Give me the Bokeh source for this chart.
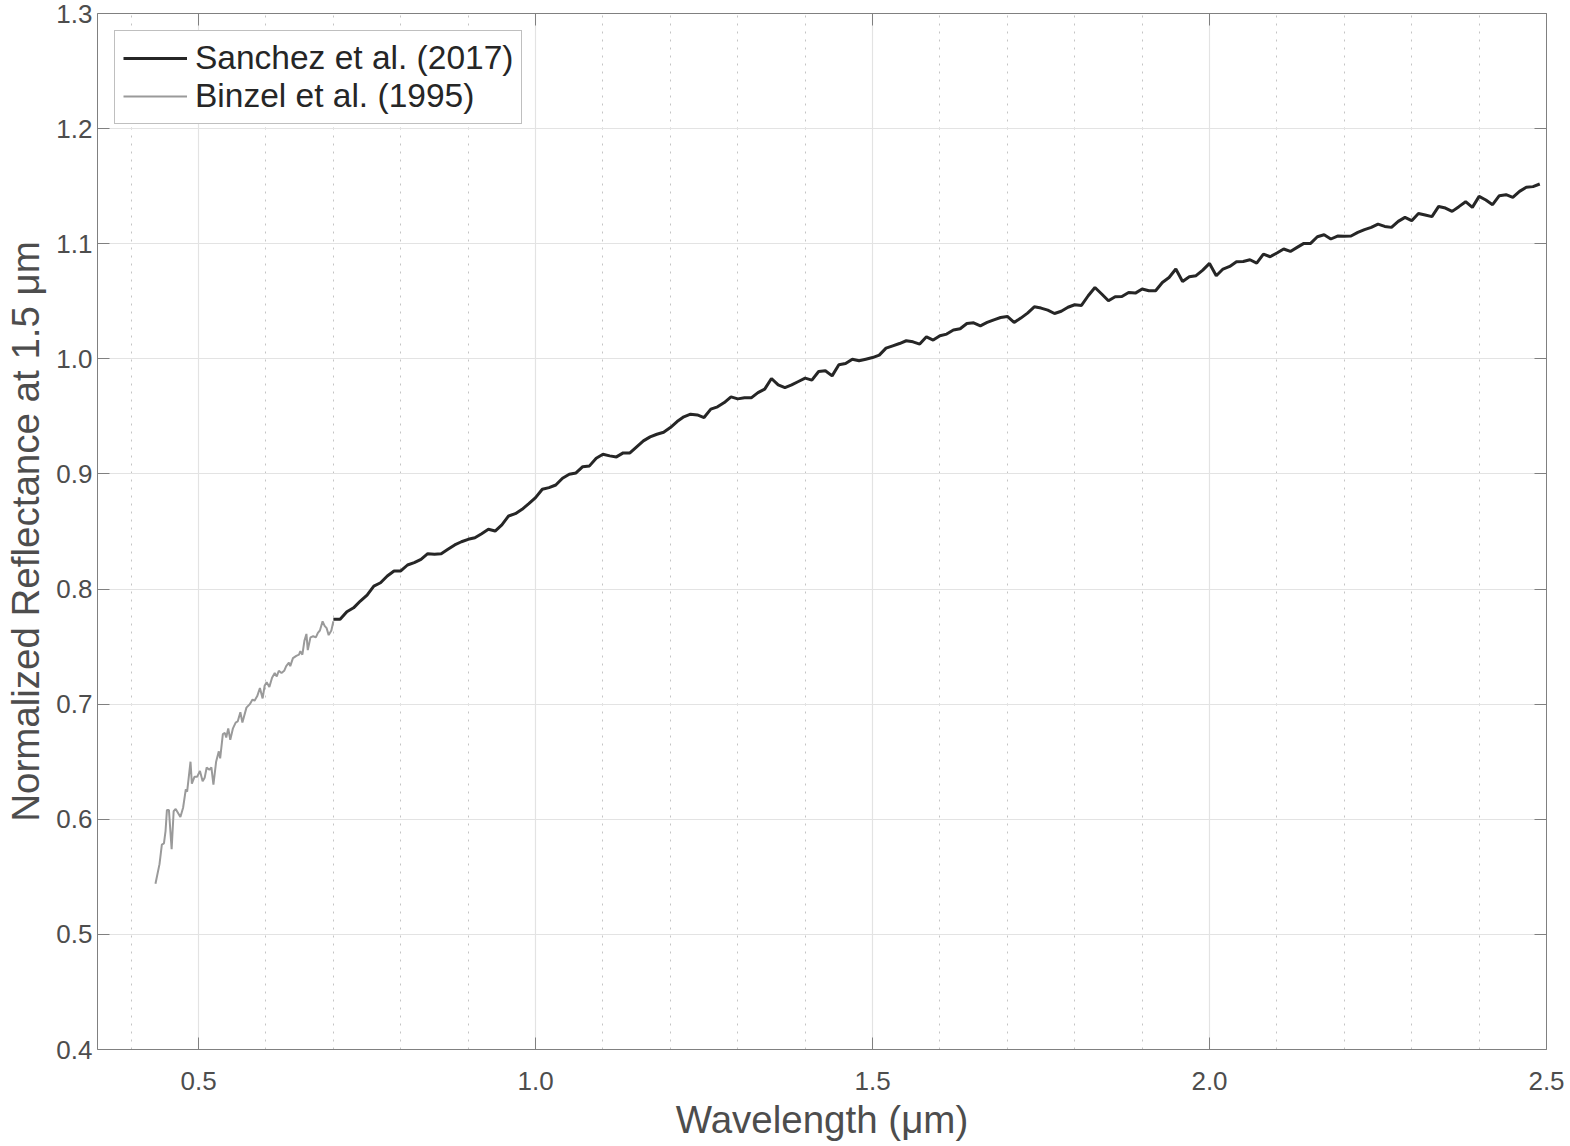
from bokeh.plotting import figure
from bokeh.models import FixedTicker, LinearAxis, Range1d, Legend, LegendItem, PrintfTickFormatter
from bokeh.embed import file_html
from bokeh.resources import INLINE

# ---- data ----
binzel_wl = [0.436, 0.442, 0.4455, 0.4486, 0.451, 0.453, 0.456, 0.460, 0.463, 0.466,
             0.473, 0.477, 0.481, 0.483, 0.488, 0.490, 0.494, 0.498, 0.502, 0.506,
             0.509, 0.512, 0.516, 0.519, 0.522, 0.526, 0.530, 0.532, 0.536, 0.539,
             0.541, 0.544, 0.547, 0.551, 0.555, 0.558, 0.562, 0.565, 0.571, 0.576,
             0.580, 0.583, 0.587, 0.591, 0.595, 0.598, 0.601, 0.605, 0.609, 0.613,
             0.616, 0.619, 0.623, 0.627, 0.630, 0.634, 0.636, 0.640, 0.645, 0.649,
             0.651, 0.654, 0.657, 0.660, 0.662, 0.666, 0.670, 0.674, 0.677, 0.680,
             0.684, 0.687, 0.690, 0.693, 0.697, 0.700]
binzel_refl = [0.544, 0.561, 0.578, 0.579, 0.590, 0.608, 0.608, 0.574, 0.607, 0.609,
               0.602, 0.610, 0.626, 0.624, 0.650, 0.631, 0.637, 0.637, 0.642, 0.633,
               0.636, 0.645, 0.643, 0.645, 0.630, 0.650, 0.659, 0.653, 0.674, 0.675,
               0.671, 0.679, 0.669, 0.679, 0.684, 0.685, 0.693, 0.684, 0.697, 0.700,
               0.704, 0.703, 0.707, 0.714, 0.705, 0.716, 0.719, 0.715, 0.723, 0.727,
               0.724, 0.729, 0.727, 0.729, 0.733, 0.736, 0.733, 0.740, 0.742, 0.743,
               0.746, 0.743, 0.755, 0.761, 0.747, 0.758, 0.759, 0.758, 0.762, 0.764,
               0.772, 0.768, 0.766, 0.760, 0.764, 0.772]

sanchez_wl = [0.70, 0.71, 0.72, 0.73, 0.74, 0.75, 0.76, 0.77, 0.78, 0.79,
              0.80, 0.81, 0.82, 0.83, 0.84, 0.85, 0.86, 0.87, 0.88, 0.89,
              0.90, 0.91, 0.92, 0.93, 0.94, 0.95, 0.96, 0.97, 0.98, 0.99,
              1.00, 1.01, 1.02, 1.03, 1.04, 1.05, 1.06, 1.07, 1.08, 1.09,
              1.10, 1.11, 1.12, 1.13, 1.14, 1.15, 1.16, 1.17, 1.18, 1.19,
              1.20, 1.21, 1.22, 1.23, 1.24, 1.25, 1.26, 1.27, 1.28, 1.29,
              1.30, 1.31, 1.32, 1.33, 1.34, 1.35, 1.36, 1.37, 1.38, 1.39,
              1.40, 1.41, 1.42, 1.43, 1.44, 1.45, 1.46, 1.47, 1.48, 1.49,
              1.50, 1.51, 1.52, 1.53, 1.54, 1.55, 1.56, 1.57, 1.58, 1.59,
              1.60, 1.61, 1.62, 1.63, 1.64, 1.65, 1.66, 1.67, 1.68, 1.69,
              1.70, 1.71, 1.72, 1.73, 1.74, 1.75, 1.76, 1.77, 1.78, 1.79,
              1.80, 1.81, 1.82, 1.83, 1.84, 1.85, 1.86, 1.87, 1.88, 1.89,
              1.90, 1.91, 1.92, 1.93, 1.94, 1.95, 1.96, 1.97, 1.98, 1.99,
              2.00, 2.01, 2.02, 2.03, 2.04, 2.05, 2.06, 2.07, 2.08, 2.09,
              2.10, 2.11, 2.12, 2.13, 2.14, 2.15, 2.16, 2.17, 2.18, 2.19,
              2.20, 2.21, 2.22, 2.23, 2.24, 2.25, 2.26, 2.27, 2.28, 2.29,
              2.30, 2.31, 2.32, 2.33, 2.34, 2.35, 2.36, 2.37, 2.38, 2.39,
              2.40, 2.41, 2.42, 2.43, 2.44, 2.45, 2.46, 2.47, 2.48, 2.49]
sanchez_refl = [0.7737, 0.7737, 0.7803, 0.7837, 0.7896, 0.7948, 0.8026, 0.8055, 0.8113, 0.8157,
                0.8157, 0.8209, 0.8229, 0.8258, 0.8307, 0.8302, 0.8307, 0.8345, 0.8383, 0.8411,
                0.8432, 0.8446, 0.8481, 0.8519, 0.8504, 0.8557, 0.8635, 0.8655, 0.8693, 0.8742,
                0.8794, 0.8867, 0.8881, 0.8904, 0.8963, 0.8997, 0.9009, 0.9063, 0.9070, 0.9137,
                0.9171, 0.9157, 0.9148, 0.9183, 0.9183, 0.9235, 0.9287, 0.9322, 0.9345, 0.9362,
                0.9403, 0.9455, 0.9496, 0.9519, 0.9513, 0.9490, 0.9563, 0.9583, 0.9620, 0.9670,
                0.9652, 0.9661, 0.9661, 0.9707, 0.9737, 0.9829, 0.9774, 0.9750, 0.9774, 0.9803,
                0.9832, 0.9815, 0.9890, 0.9896, 0.9852, 0.9948, 0.9959, 0.9997, 0.9983, 0.9997,
                1.0011, 1.0032, 1.0093, 1.0113, 1.0133, 1.0157, 1.0148, 1.0128, 1.0191, 1.0163,
                1.0200, 1.0215, 1.0250, 1.0261, 1.0307, 1.0313, 1.0287, 1.0316, 1.0339, 1.0359,
                1.0368, 1.0316, 1.0354, 1.0397, 1.0452, 1.0441, 1.0423, 1.0394, 1.0413, 1.0448,
                1.0470, 1.0464, 1.0548, 1.0620, 1.0563, 1.0504, 1.0539, 1.0542, 1.0577, 1.0571,
                1.0606, 1.0591, 1.0591, 1.0663, 1.0707, 1.0780, 1.0672, 1.0713, 1.0722, 1.0771,
                1.0829, 1.0722, 1.0780, 1.0803, 1.0843, 1.0846, 1.0861, 1.0832, 1.0910, 1.0887,
                1.0919, 1.0954, 1.0933, 1.0968, 1.1003, 1.1003, 1.1061, 1.1078, 1.1041, 1.1067,
                1.1064, 1.1067, 1.1098, 1.1122, 1.1142, 1.1171, 1.1150, 1.1142, 1.1194, 1.1229,
                1.1200, 1.1263, 1.1250, 1.1235, 1.1324, 1.1310, 1.1281, 1.1322, 1.1365, 1.1316,
                1.1411, 1.1380, 1.1339, 1.1417, 1.1426, 1.1403, 1.1455, 1.1490, 1.1496, 1.1519]

x_major_ticks = [0.5, 1.0, 1.5, 2.0, 2.5]
x_minor_ticks = [0.4, 0.6, 0.7, 0.8, 0.9, 1.1, 1.2, 1.3, 1.4, 1.6, 1.7, 1.8, 1.9,
                 2.1, 2.2, 2.3, 2.4]
y_major_ticks = [0.4, 0.5, 0.6, 0.7, 0.8, 0.9, 1.0, 1.1, 1.2, 1.3]

FONT = "Liberation Sans"
AXIS_COLOR = "#808080"
TEXT_COLOR = "#4d4d4d"

p = figure(width=1570, height=1146, output_backend="svg", toolbar_location=None,
           x_range=Range1d(0.35, 2.5), y_range=Range1d(0.4, 1.3),
           min_border_left=97, min_border_right=24, min_border_top=13, min_border_bottom=97)
p.outline_line_color = None

xt = FixedTicker(ticks=x_major_ticks, minor_ticks=x_minor_ticks)
yt = FixedTicker(ticks=y_major_ticks, minor_ticks=[])

for ax in [p.xaxis[0], p.yaxis[0]]:
    ax.axis_line_color = AXIS_COLOR
    ax.major_tick_line_color = AXIS_COLOR
    ax.major_tick_in = 12
    ax.major_tick_out = 0
    ax.minor_tick_in = 0
    ax.minor_tick_out = 0
    ax.major_label_text_font = FONT
    ax.major_label_text_font_size = "26px"
    ax.major_label_text_color = TEXT_COLOR
    ax.axis_label_text_font = FONT
    ax.axis_label_text_font_size = "38.5px"
    ax.axis_label_text_font_style = "normal"
    ax.axis_label_text_color = TEXT_COLOR
    ax.formatter = PrintfTickFormatter(format="%.1f")

p.xaxis[0].ticker = xt
p.yaxis[0].ticker = yt
p.xaxis[0].axis_label = "Wavelength (μm)"
p.yaxis[0].axis_label = "Normalized Reflectance at 1.5 μm"
p.xaxis[0].major_label_standoff = 22
p.xaxis[0].axis_label_standoff = 5
p.yaxis[0].major_label_standoff = 5
p.yaxis[0].axis_label_standoff = 6

# box axes (top/right) with inward ticks, no labels
top_ax = LinearAxis(ticker=FixedTicker(ticks=x_major_ticks, minor_ticks=[]),
                    major_label_overrides={t: "" for t in x_major_ticks})
right_ax = LinearAxis(ticker=FixedTicker(ticks=y_major_ticks, minor_ticks=[]),
                      major_label_overrides={t: "" for t in y_major_ticks})
for ax in [top_ax, right_ax]:
    ax.axis_line_color = AXIS_COLOR
    ax.major_tick_line_color = AXIS_COLOR
    ax.major_tick_in = 12
    ax.major_tick_out = 0
    ax.minor_tick_in = 0
    ax.minor_tick_out = 0
    ax.major_label_text_font_size = "1px"
    ax.major_label_standoff = 0
    ax.axis_label_standoff = 0
p.add_layout(top_ax, "above")
p.add_layout(right_ax, "right")

p.xgrid.ticker = xt
p.ygrid.ticker = yt
p.xgrid.grid_line_color = "#e3e3e3"
p.ygrid.grid_line_color = "#e3e3e3"
p.xgrid.grid_line_width = 1.2
p.ygrid.grid_line_width = 1.2
p.xgrid.minor_grid_line_color = "#c4c4c4"
p.xgrid.minor_grid_line_dash = "2 6"
p.xgrid.minor_grid_line_width = 1

r_b = p.line(binzel_wl, binzel_refl, line_color="#9a9a9a", line_width=2)
r_s = p.line(sanchez_wl, sanchez_refl, line_color="#262626", line_width=3)

legend = Legend(items=[LegendItem(label="Sanchez et al. (2017)", renderers=[r_s]),
                       LegendItem(label="Binzel et al. (1995)", renderers=[r_b])],
                location="top_left")
legend.margin = 17
legend.padding = 8
legend.spacing = 0
legend.glyph_width = 64
legend.glyph_height = 38
legend.label_height = 38
legend.label_standoff = 8
legend.label_text_font = FONT
legend.label_text_font_size = "33.5px"
legend.label_text_color = "#262626"
legend.border_line_color = AXIS_COLOR
legend.border_line_width = 1
legend.background_fill_color = "white"
legend.background_fill_alpha = 1
p.add_layout(legend, "center")

open("out.html", "w").write(file_html(p, INLINE))
